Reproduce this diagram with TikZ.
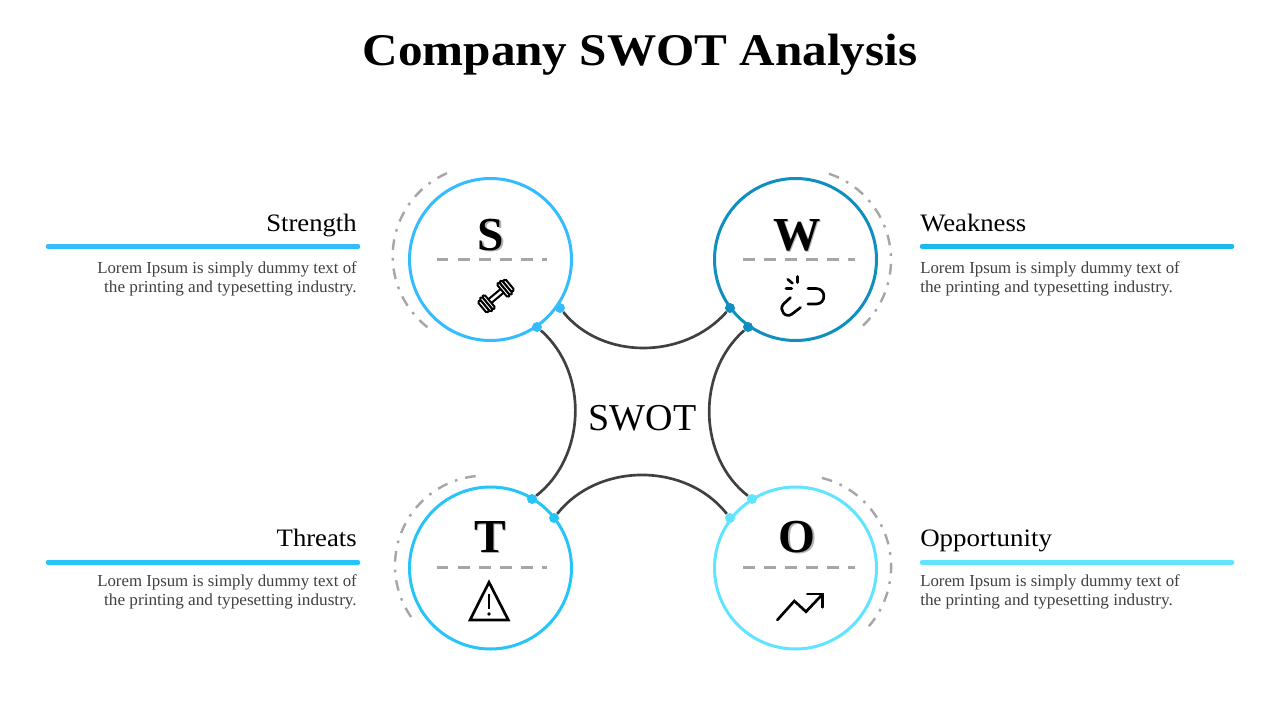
\documentclass[tikz,border=0pt]{standalone}
\usepackage{fontspec}
\setmainfont{Liberation Serif}
\newcommand{\shd}[1]{\makebox[0pt][l]{\hspace{1.1pt}\raisebox{-1.1pt}{\textcolor{black!30}{#1}}}#1}
\newcommand{\lineA}{Lorem Ipsum is simply dummy text of}
\newcommand{\lineB}{\scalebox{1.024}[1]{the printing and typesetting industry.}}
\definecolor{cS}{HTML}{33BDFF}
\definecolor{cW}{HTML}{0F8FC0}
\definecolor{cT}{HTML}{27C4F8}
\definecolor{cO}{HTML}{60E4FF}
\definecolor{barW}{HTML}{1CB8F0}
\definecolor{dk}{HTML}{404040}
\definecolor{gr}{HTML}{A6A6A6}
\tikzset{
 ring/.style={circle,draw=#1,line width=2.25pt,minimum size=121.5pt,inner sep=0pt},
 dot/.style={circle,fill=#1,minimum size=7.5pt,inner sep=0pt},
 conn/.style={draw=dk,line width=2pt},
 orbit/.style={draw=gr,line width=1.8pt,dash pattern=on 8pt off 6pt on 2pt off 6pt},
 split/.style={draw=gr,line width=1.9pt,dash pattern=on 8.8pt off 7pt},
 bar/.style={line width=3.4pt,line cap=round},
 letter/.style={anchor=base,inner sep=0pt,font=\fontsize{35.5pt}{40pt}\selectfont\bfseries},
 head/.style={inner sep=0pt,font=\fontsize{18.8pt}{24pt}\selectfont},
 body/.style={inner sep=0pt,text=dk,font=\fontsize{12.6pt}{14.25pt}\selectfont},
 icon/.style={draw=black,line width=2pt,line cap=round,line join=round},
 plate/.style={draw=black,fill=white,line width=1.5pt,rounded corners=1pt},
}
\begin{document}
\begin{tikzpicture}[x=0.75pt,y=-0.75pt]
\useasboundingbox (0,0) rectangle (1280,720);
\fill[white] (0,0) rectangle (1280,720);
\node[inner sep=0pt,anchor=base,font=\fontsize{34pt}{40pt}\selectfont\bfseries] (title) at (640,66) {\scalebox{1.085}[1]{Company SWOT Analysis}};

% rings
\node[ring=cS] (S) at (490.5,259.5) {};
\node[ring=cW] (W) at (795.5,259.5) {};
\node[ring=cT] (T) at (490.5,568) {};
\node[ring=cO] (O) at (795.5,568) {};

% orbits
\draw[orbit] plot[domain=128:246.6,samples=60] ({483+90.3*cos(\x)},{256+90.3*sin(\x)});
\draw[orbit] plot[domain=-71.4:46.3,samples=60] ({800+91*cos(\x)},{260+91*sin(\x)});
\draw[orbit] plot[domain=145.2:264.9,samples=60] ({485+90*cos(\x)},{565.6+90*sin(\x)});
\draw[orbit] plot[domain=-76:40.8,samples=60] ({799.8+91.3*cos(\x)},{566.5+91.3*sin(\x)});

% dots
\node[dot=cS] (s1) at (560,308) {};
\node[dot=cS] (s2) at (537,327) {};
\node[dot=cW] (w1) at (730,308) {};
\node[dot=cW] (w2) at (748,327) {};
\node[dot=cT] (t1) at (532,499) {};
\node[dot=cT] (t2) at (554,518) {};
\node[dot=cO] (o1) at (752,499) {};
\node[dot=cO] (o2) at (730,518) {};

% connectors
\draw[conn] (s1) .. controls (602,360) and (684,360) .. (w1);
\draw[conn] (t2) .. controls (598,462) and (686,462) .. (o2);
\draw[conn] (s2) .. controls (590,374) and (585,458) .. (t1);
\draw[conn] (w2) .. controls (695,374) and (699,458) .. (o1);

\node[inner sep=0pt,anchor=base,font=\fontsize{28.5pt}{32pt}\selectfont] (swot) at (642.5,430) {SWOT};

% letters
\node[letter] (ls) at (491,250) {\shd{S}};
\node[letter] (lw) at (797,250) {\shd{W}};
\node[letter] (lt) at (490,552) {\shd{T}};
\node[letter] (lo) at (797,552) {\shd{O}};

% splitters
\draw[split] (436.7,259.3) -- (547,259.3);
\draw[split] (743,259.3) -- (855,259.3);
\draw[split] (436.7,567.3) -- (547,567.3);
\draw[split] (743,567.3) -- (855,567.3);

% dumbbell
\begin{scope}[shift={(496,296)},rotate=40]
\draw[plate] (-9,-2.4) rectangle (9,2.4);
\draw[plate] (8,-8.5) rectangle (11.3,8.5);
\draw[plate] (11.3,-8.5) rectangle (14.6,8.5);
\draw[plate] (14.6,-7) rectangle (18,7);
\draw[plate] (-8,-8.5) rectangle (-11.3,8.5);
\draw[plate] (-11.3,-8.5) rectangle (-14.6,8.5);
\draw[plate] (-14.6,-7) rectangle (-18,7);
\end{scope}

% broken link
\draw[icon] (808,288.5) -- (816,288.5) .. controls (826.5,288.5) and (826.5,304) .. (816,304) -- (808,304);
\draw[icon] (790.5,297.5) -- (783.5,304) .. controls (778,310) and (786,319) .. (792,314) -- (800.5,307.5);
\draw[icon] (797.3,276.5) -- (797.3,282.5);
\draw[icon] (787.7,279.3) -- (792.5,283.3);
\draw[icon] (786,288.7) -- (791.7,288.7);

% warning
\draw[icon,line cap=butt,line join=miter] (489,582.3) -- (508.3,620) -- (470,620) -- cycle;
\draw[draw=black,line width=1.3pt] (489,594.3) -- (489,609);
\fill[black] (489,614) circle[radius=1.9];

% trend
\draw[icon,line join=miter] (777.3,620) -- (794.3,601) -- (806,611.7) -- (822.7,594);
\draw[icon,line join=miter] (807.3,594) -- (822.7,594) -- (822.7,607.3);

% bars
\coordinate (bs1) at (48,246.5); \coordinate (bs2) at (358,246.5);
\coordinate (bw1) at (922,246.5); \coordinate (bw2) at (1232,246.5);
\coordinate (bt1) at (48,562.5); \coordinate (bt2) at (358,562.5);
\coordinate (bo1) at (922,562.5); \coordinate (bo2) at (1232,562.5);
\draw[bar,cS] (bs1) -- (bs2);
\draw[bar,barW] (bw1) -- (bw2);
\draw[bar,cT] (bt1) -- (bt2);
\draw[bar,cO] (bo1) -- (bo2);

% labels
\node[head,anchor=base east] (hs) at (357,232) {\scalebox{1.065}[1]{Strength}};
\node[head,anchor=base west] (hw) at (920,232) {\scalebox{1.065}[1]{Weakness}};
\node[head,anchor=base east] (ht) at (357,546) {\scalebox{1.065}[1]{Threats}};
\node[head,anchor=base west] (ho) at (920,546) {\scalebox{1.075}[1]{Opportunity}};

\node[body,anchor=east,align=right] (bs) at (357,279) {\lineA\\\lineB};
\node[body,anchor=west,align=left] (bw) at (920,279) {\lineA\\\lineB};
\node[body,anchor=east,align=right] (bt) at (357,592) {\lineA\\\lineB};
\node[body,anchor=west,align=left] (bo) at (920,592) {\lineA\\\lineB};
\end{tikzpicture}
\end{document}
